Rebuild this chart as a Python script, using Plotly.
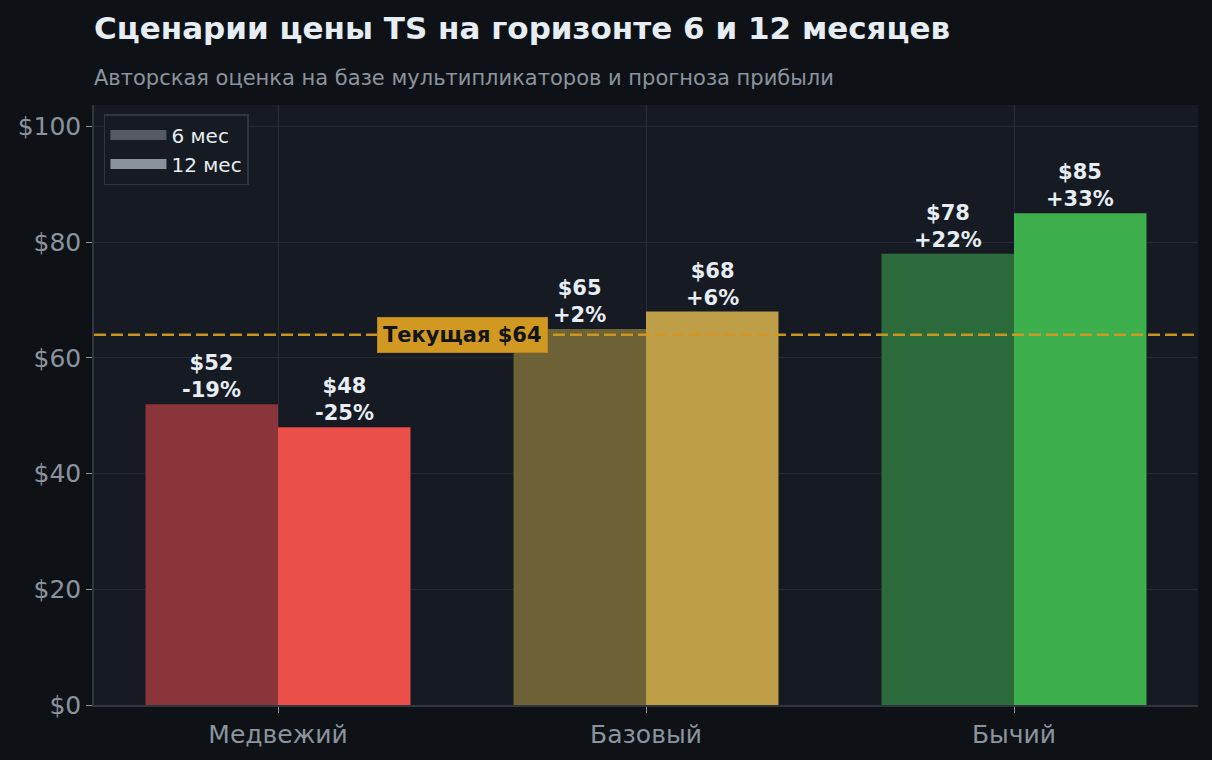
import plotly.graph_objects as go

# данные сценариев
scenarios = ["Медвежий", "Базовый", "Бычий"]
price_6m = [52, 65, 78]
price_12m = [48, 68, 85]
current_price = 64

colors_6m = ["#8a3539", "#6e6237", "#2a6a3b"]
colors_12m = ["#ea4f4a", "#bf9e48", "#3db04d"]

BG = "#0e1216"
PLOT_BG = "#161a22"
GRID = "#242a33"
TEXT = "#e6edf3"
MUTED = "#8b949e"
GOLD = "#d29922"

x_idx = list(range(len(scenarios)))

fig = go.Figure()

fig.add_trace(go.Bar(x=x_idx, y=price_6m, marker=dict(color=colors_6m, line=dict(width=0)),
                     showlegend=False, hoverinfo="skip"))
fig.add_trace(go.Bar(x=x_idx, y=price_12m, marker=dict(color=colors_12m, line=dict(width=0)),
                     showlegend=False, hoverinfo="skip"))

# легенда (серые плашки)
fig.add_trace(go.Scatter(x=[None], y=[None], mode="lines", name="6 мес", legendgroup="a",
                         line=dict(color="#555a65", width=15)))
fig.add_trace(go.Scatter(x=[None], y=[None], mode="lines", name="12 мес", legendgroup="b",
                         line=dict(color="#8a929d", width=15)))

def pct(v):
    p = round((v / current_price - 1) * 100)
    return f"+{p}%" if p >= 0 else f"{p}%"

for i in x_idx:
    for off, vals in ((-0.18, price_6m), (0.18, price_12m)):
        v = vals[i]
        fig.add_annotation(x=i + off, y=v, text=f"${v}<br>{pct(v)}", showarrow=False,
                           yanchor="bottom", yshift=0,
                           font=dict(family="DejaVu Sans", size=21, color=TEXT, weight="bold"))

# текущая цена
fig.add_shape(type="line", xref="paper", x0=0, x1=1, y0=current_price, y1=current_price,
              line=dict(color=GOLD, width=2.5, dash="12px,5px"), opacity=0.95)
fig.add_annotation(x=0.5, y=current_price, text="Текущая $64", showarrow=False,
                   bgcolor=GOLD, bordercolor="#b8861c", borderwidth=1, borderpad=5,
                   font=dict(family="DejaVu Sans", size=21, color="#111418", weight="bold"))

fig.add_annotation(xref="paper", yref="paper", x=0, y=1.045, xanchor="left", yanchor="middle",
                   xshift=-2,
                   text="Авторская оценка на базе мультипликаторов и прогноза прибыли",
                   showarrow=False, font=dict(family="DejaVu Sans", size=21, color=MUTED))

fig.update_layout(
    width=1212, height=760,
    margin=dict(l=94, r=14, t=105, b=55),
    paper_bgcolor=BG, plot_bgcolor=PLOT_BG,
    barmode="group", bargap=0.28, bargroupgap=0,
    title=dict(text="<b>Сценарии цены TS на горизонте 6 и 12 месяцев</b>",
               x=94 / 1212, xanchor="left", y=1 - 28 / 760, yanchor="middle",
               font=dict(family="DejaVu Sans", size=31, color=TEXT)),
    legend=dict(x=0.009, y=0.985, xanchor="left", yanchor="top",
                bgcolor="#161a22", bordercolor="#30363d", borderwidth=1.5,
                font=dict(family="DejaVu Sans", size=20, color=TEXT),
                itemwidth=56, tracegroupgap=0),
    font=dict(family="DejaVu Sans", color=MUTED),
)

fig.update_xaxes(range=[-0.5, 2.5], tickvals=x_idx, ticktext=scenarios,
                 tickfont=dict(size=25, color=MUTED), showgrid=True, gridcolor=GRID,
                 ticks="outside", ticklen=6, tickcolor=MUTED,
                 showline=True, linecolor="#30363d", linewidth=1.5, zeroline=False)
fig.update_yaxes(range=[0, 103.7], tickvals=[0, 20, 40, 60, 80, 100],
                 ticktext=["$0", "$20", "$40", "$60", "$80", "$100"],
                 tickfont=dict(size=25, color=MUTED), showgrid=True, gridcolor=GRID,
                 ticks="outside", ticklen=6, tickcolor=MUTED,
                 showline=True, linecolor="#30363d", linewidth=1.5, zeroline=False)

fig.write_html("out.html", config={"displayModeBar": False},
               post_script="document.body.style.margin='0';")
